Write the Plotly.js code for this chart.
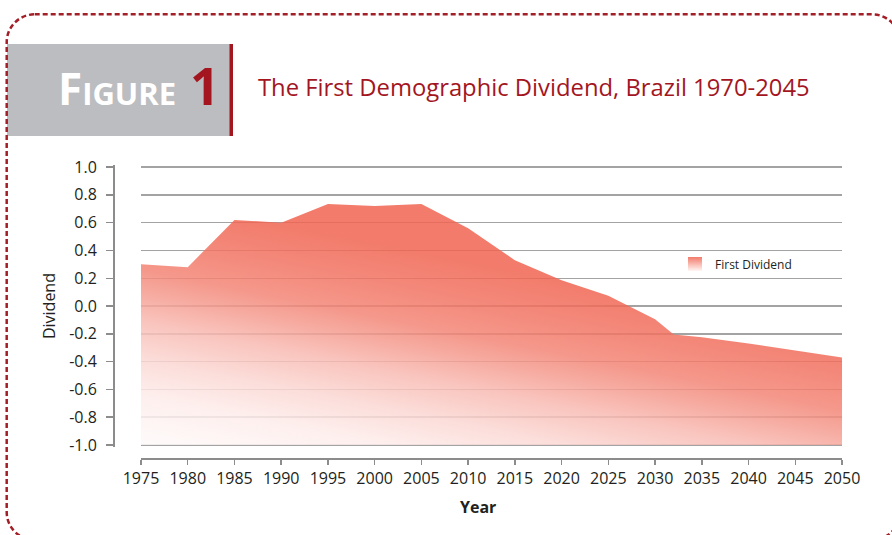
<!DOCTYPE html>
<html>
<head>
<meta charset="utf-8">
<script src="https://cdn.plot.ly/plotly-3.0.1.min.js"></script>
<style>
  html, body { margin: 0; padding: 0; background: #ffffff; }
  #chart { width: 892px; height: 535px; }
</style>
</head>
<body>
<div id="chart"></div>
<script>
// ---------- data ----------
const years = [1975, 1980, 1985, 1990, 1995, 2000, 2005, 2010, 2015, 2020, 2025, 2030, 2032, 2035, 2040, 2045, 2050];
const firstDividend = [0.30, 0.28, 0.62, 0.60, 0.735, 0.72, 0.735, 0.56, 0.33, 0.185, 0.075, -0.095, -0.205, -0.225, -0.27, -0.32, -0.37];
const xTickVals = [1975, 1980, 1985, 1990, 1995, 2000, 2005, 2010, 2015, 2020, 2025, 2030, 2035, 2040, 2045, 2050];
const yTickVals = [1.0, 0.8, 0.6, 0.4, 0.2, 0.0, -0.2, -0.4, -0.6, -0.8, -1.0];
const yTickText = ['1.0', '0.8', '0.6', '0.4', '0.2', '0.0', '-0.2', '-0.4', '-0.6', '-0.8', '-1.0'];
const seriesName = 'First Dividend';
const chartTitle = 'The First Demographic Dividend, Brazil 1970-2045';
const xTitle = 'Year';
const yTitle = 'Dividend';
const fillFloor = -1.0;   // area is filled down to the bottom of the value axis

// ---------- layout helpers (pixel -> paper) ----------
const W = 892, H = 535;
const PL = 113, PR = 842, PT = 165, PB = 458;
const px = x => (x - PL) / (PR - PL);
const py = y => (PB - y) / (PB - PT);

const FONT = '"Open Sans", "Noto Sans", sans-serif';
const TXT = '#231f20';
const RED = '#a3161f';
const AXIS = '#8c8c8c';

const baseline = years.map(() => fillFloor);

const data = [
  {
    x: years, y: baseline, type: 'scatter', mode: 'lines',
    line: { width: 0, color: 'rgba(0,0,0,0)' },
    showlegend: false, hoverinfo: 'skip'
  },
  {
    x: years, y: firstDividend, type: 'scatter', mode: 'lines',
    line: { width: 0, color: 'rgba(0,0,0,0)' },
    name: seriesName, showlegend: false,
    fill: 'tonexty',
    fillgradient: {
      type: 'vertical', start: -1.0, stop: 0.75,
      colorscale: [
        [0.00, 'rgba(254,250,250,0.85)'],
        [0.20, 'rgba(253,236,234,0.85)'],
        [0.34, 'rgba(251,216,212,0.85)'],
        [0.50, 'rgba(248,185,177,0.85)'],
        [0.60, 'rgba(245,159,147,0.85)'],
        [0.70, 'rgba(243,134,119,0.85)'],
        [0.85, 'rgba(241,115,98,0.85)'],
        [1.00, 'rgba(240,100,81,0.85)']
      ]
    }
  },
  {
    // legend entry for the area series
    x: [null], y: [null], type: 'scatter', mode: 'markers',
    name: seriesName, showlegend: true, hoverinfo: 'skip',
    marker: { symbol: 'square', size: 14, color: '#f27b6b',
              gradient: { type: 'vertical', color: '#fff6f3' }, line: { width: 0 } }
  }
];

function roundRectPath(x0, y0, x1, y1, r) {
  const k = 0.5523 * r;
  const P = (x, y) => px(x) + ',' + py(y);
  return 'M' + P(x0 + r, y0) +
    ' L' + P(x1 - r, y0) +
    ' C' + P(x1 - r + k, y0) + ' ' + P(x1, y0 + r - k) + ' ' + P(x1, y0 + r) +
    ' L' + P(x1, y1 - r) +
    ' C' + P(x1, y1 - r + k) + ' ' + P(x1 - r + k, y1) + ' ' + P(x1 - r, y1) +
    ' L' + P(x0 + r, y1) +
    ' C' + P(x0 + r - k, y1) + ' ' + P(x0, y1 - r + k) + ' ' + P(x0, y1 - r) +
    ' L' + P(x0, y0 + r) +
    ' C' + P(x0, y0 + r - k) + ' ' + P(x0 + r - k, y0) + ' ' + P(x0 + r, y0) + ' Z';
}

const layout = {
  width: W, height: H,
  paper_bgcolor: '#ffffff', plot_bgcolor: 'rgba(0,0,0,0)',
  margin: { l: PL, r: W - PR, t: PT, b: H - PB, pad: 0 },
  font: { family: FONT, color: TXT, size: 16 },
  showlegend: true,
  legend: {
    x: px(675), y: py(264), xanchor: 'left', yanchor: 'middle',
    bgcolor: 'rgba(0,0,0,0)', borderwidth: 0,
    font: { family: FONT, size: 12, color: TXT },
    itemwidth: 30
  },
  xaxis: {
    domain: [px(141), 1], anchor: 'free', position: 0,
    range: [1975, 2050], tickvals: xTickVals,
    showgrid: false, zeroline: false,
    showline: true, linecolor: AXIS, linewidth: 1.5,
    ticks: 'outside', ticklen: 5, tickwidth: 1.5, tickcolor: AXIS,
    tickfont: { family: FONT, size: 16, color: TXT }
  },
  yaxis: {
    domain: [py(447.1), py(162.9)], anchor: 'free', position: 0,
    range: [-1.015, 1.015], tickvals: yTickVals, ticktext: yTickText,
    showgrid: true, gridcolor: '#a3a3a3', gridwidth: 1.5,
    zeroline: false,
    showline: true, linecolor: AXIS, linewidth: 1.5,
    ticks: 'outside', ticklen: 7, tickwidth: 1.5, tickcolor: AXIS,
    ticklabelstandoff: 6,
    tickfont: { family: FONT, size: 16, color: TXT },
    title: { text: yTitle, font: { family: FONT, size: 16, color: TXT }, standoff: 8 }
  },
  shapes: [
    { type: 'rect', xref: 'paper', yref: 'paper', layer: 'above',
      x0: px(7), x1: px(230), y0: py(136), y1: py(44),
      fillcolor: '#bcbdc0', line: { width: 0 } },
    { type: 'rect', xref: 'paper', yref: 'paper', layer: 'above',
      x0: px(229.5), x1: px(233), y0: py(136), y1: py(44),
      fillcolor: RED, line: { width: 0 } },
    { type: 'path', xref: 'paper', yref: 'paper', layer: 'above',
      path: roundRectPath(6.7, 14.3, 900, 540, 28),
      fillcolor: 'rgba(0,0,0,0)',
      line: { color: '#a31f27', width: 2.5, dash: '5px,3px' } }
  ],
  annotations: [
    { xref: 'paper', yref: 'paper', x: px(178), y: py(88), xanchor: 'right', yanchor: 'middle',
      text: '<b>Figure</b>', showarrow: false,
      font: { family: FONT, size: 44, color: '#ffffff', variant: 'small-caps' } },
    { xref: 'paper', yref: 'paper', x: px(188), y: py(85), xanchor: 'left', yanchor: 'middle',
      text: '<b>1</b>', showarrow: false,
      font: { family: FONT, size: 52, color: RED } },
    { xref: 'paper', yref: 'paper', x: px(256), y: py(87), xanchor: 'left', yanchor: 'middle',
      text: chartTitle, showarrow: false,
      font: { family: FONT, size: 23.8, color: RED } },
    { xref: 'paper', yref: 'paper', x: 0.5, y: py(507), xanchor: 'center', yanchor: 'middle',
      text: '<b>' + xTitle + '</b>', showarrow: false,
      font: { family: FONT, size: 16, color: TXT } }
  ]
};

const gd = document.getElementById('chart');
Plotly.newPlot(gd, data, layout, { staticPlot: true, displayModeBar: false }).then(function () {
  // tilt the area gradient so it runs diagonally (light at bottom-left, strong at top-right)
  try {
    const xa = gd._fullLayout.xaxis, ya = gd._fullLayout.yaxis;
    gd.querySelectorAll('.js-fill').forEach(function (p) {
      const f = p.style.fill || '';
      const m = f.match(/#([^'")]+)/);
      if (!m || m[1].indexOf('scatterfill') < 0) return;
      const g = document.getElementById(m[1]);
      if (!g || g.tagName.toLowerCase() !== 'lineargradient') return;
      const x1 = xa.c2p(years[0]), y1 = ya.c2p(fillFloor);
      g.setAttribute('x1', x1); g.setAttribute('y1', y1);
      g.setAttribute('x2', x1 + 48); g.setAttribute('y2', y1 - 240);
    });
  } catch (e) {}
});
</script>
</body>
</html>
